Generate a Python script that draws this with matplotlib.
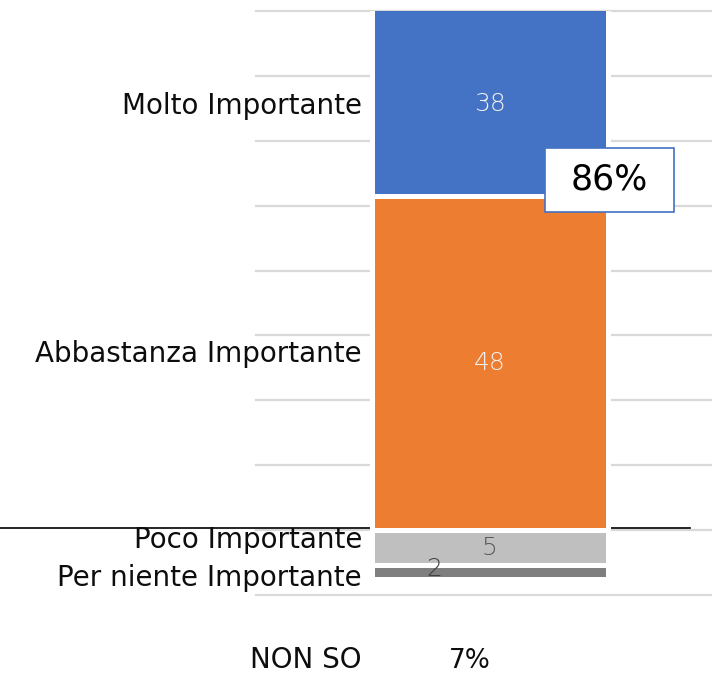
import matplotlib.pyplot as plt
from matplotlib.patches import Rectangle

# Importance ratings (percent); negative values sit below the zero line
categories = ['Molto Importante', 'Abbastanza Importante',
              'Poco Importante', 'Per niente Importante']
values = [38, 48, -5, -2]
colors = ['#4472C4', '#ED7D31', '#BFBFBF', '#7F7F7F']
label_colors = ['#F2F2F2', '#F2F2F2', '#595959', '#404040']
total_label = '86%'
non_so_label = 'NON SO'
non_so_value = 7

W, H = 712, 674
plt.rcParams['font.family'] = ['DejaVu Sans']

fig = plt.figure(figsize=(W / 100, H / 100), dpi=100)
ax = fig.add_axes([256 / W, 79 / H, 456 / W, 584 / H])

# axis scale: ~7 px per percent, bar 236 px wide
px_y = 6.97
px_x = 236.0
step = 65 / px_y
ax.set_ylim(-step, 8 * step)
ax.set_xlim((256 - 489.5) / px_x, (712 - 489.5) / px_x)
ytop = 8 * step

# stack: positive from Abbastanza upward, negative from Poco downward
order = [1, 0, 2, 3]
bottoms = {}
pos, neg = 0, 0
for i in order:
    if values[i] >= 0:
        bottoms[i] = pos
        pos += values[i]
    else:
        bottoms[i] = neg
        neg += values[i]

# gridlines
for k in range(-1, 9):
    ax.axhline(k * step, color='#D9D9D9', lw=1.6, zorder=0, clip_on=False)

# zero line across the whole width
ax.plot([(0 - 489.5) / px_x, (690 - 489.5) / px_x], [0.35, 0.35],
        color='black', lw=1.2, zorder=1, clip_on=False)

for i in order:
    ax.bar(0, values[i], bottom=bottoms[i], width=1.0, color=colors[i],
           edgecolor='white', linewidth=3.6, zorder=2)

label_nudge = [-2, 9, 8, -6]
for i in range(len(values)):
    lo = bottoms[i]
    hi = bottoms[i] + values[i]
    lo, hi = min(lo, hi), min(max(lo, hi), ytop)
    yc = (lo + hi) / 2
    dx = -55 if i == 3 else 0
    dy = 3 if i == 3 else 0
    ax.annotate(str(abs(values[i])), (0, yc), xytext=(dx * 0.72, dy * 0.72),
                textcoords='offset points', ha='center', va='center',
                fontsize=18, color=label_colors[i], fontweight='light',
                zorder=3)
    ax.annotate(categories[i], ((362 - 489.5) / px_x, yc),
                xytext=(0, label_nudge[i] * 0.72), textcoords='offset points',
                ha='right', va='center', fontsize=20, color='#0D0D0D',
                annotation_clip=False)

# box with the share of "important" answers
bx0, bx1 = (545 - 489.5) / px_x, (674 - 489.5) / px_x
by0, by1 = (530 - 211) / px_y, (530 - 147) / px_y
ax.add_patch(Rectangle((bx0, by0), bx1 - bx0, by1 - by0, facecolor='white',
                       edgecolor='#4472C4', lw=1.2, zorder=4))
ax.text((bx0 + bx1) / 2, (by0 + by1) / 2, total_label, ha='center',
        va='center', fontsize=25, color='black', zorder=5)

fig.text(362 / W, 1 - 660 / H, non_so_label, ha='right', va='center',
         fontsize=20, color='#0D0D0D')
fig.text(470 / W, 1 - 661 / H, f'{non_so_value}%', ha='center', va='center',
         fontsize=19, color='#0D0D0D')

ax.axis('off')
fig.savefig('out.png', dpi=100)
